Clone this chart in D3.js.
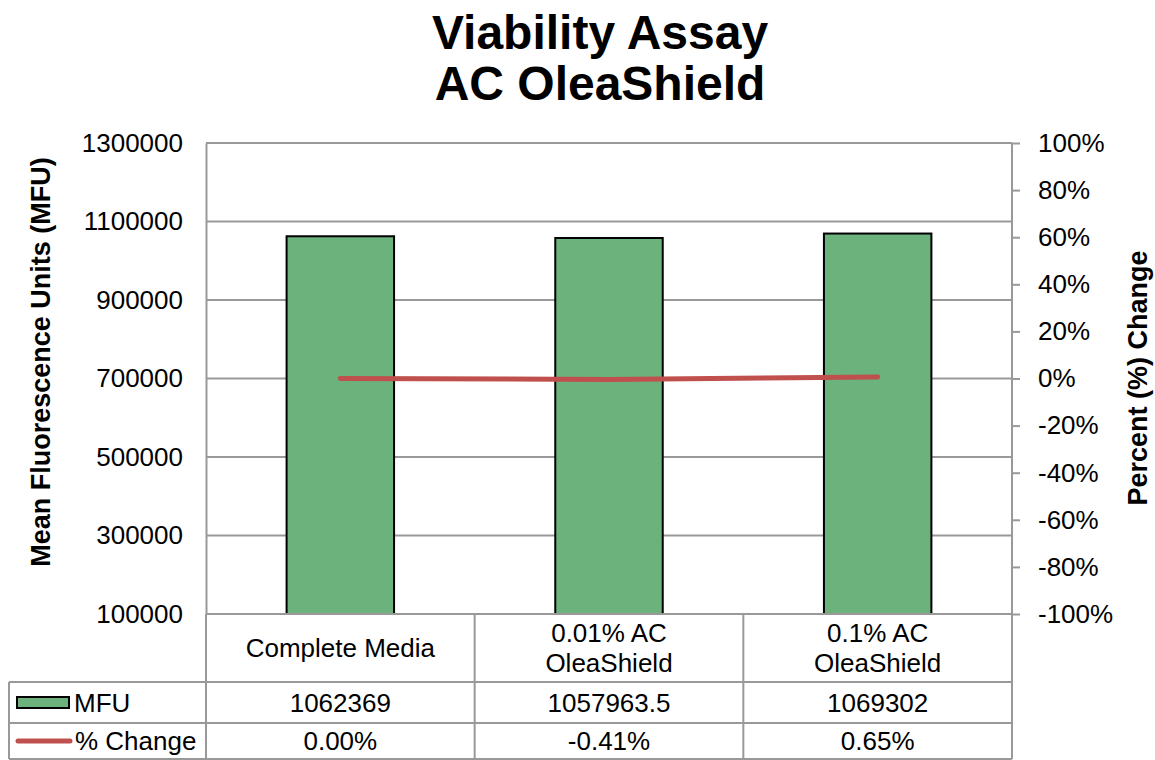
<!DOCTYPE html>
<html>
<head>
<meta charset="utf-8">
<script src="https://cdn.jsdelivr.net/npm/d3@7"></script>
<style>
  body { margin: 0; background: #fff; }
  text { font-family: "Liberation Sans", Arial, sans-serif; fill: #000; }
</style>
</head>
<body>
<div id="plot"></div>
<script>
// chart data
var categories = ["Complete Media", "0.01% AC OleaShield", "0.1% AC OleaShield"];
var categoryLines = [["Complete Media"], ["0.01% AC", "OleaShield"], ["0.1% AC", "OleaShield"]];
var mfu = [1062369, 1057963.5, 1069302];
var mfuLabels = ["1062369", "1057963.5", "1069302"];
var pctChange = [0.00, -0.41, 0.65];
var pctLabels = ["0.00%", "-0.41%", "0.65%"];
var leftTicks = [100000, 300000, 500000, 700000, 900000, 1100000, 1300000];
var rightTicks = [-100, -80, -60, -40, -20, 0, 20, 40, 60, 80, 100];

var svgWidth = 1155, svgHeight = 760;
var plot = { left: 206, right: 1012, top: 143, bottom: 614 };
var rowLines = [614, 682, 723, 759];
var tableLeft = 9;
var gridColor = "#999";
var green = "#6bb27d", red = "#c0504d";
var fontSize = "26px";

var svg = d3.select("#plot").append("svg")
    .attr("width", svgWidth)
    .attr("height", svgHeight);

// scales
var x = d3.scaleBand().domain(categories)
    .range([plot.left, plot.right])
    .paddingInner(0.6).paddingOuter(0.3);
var xCell = d3.scaleBand().domain(categories)
    .range([plot.left, plot.right]);
var y = d3.scaleLinear().domain([100000, 1300000]).range([plot.bottom, plot.top]);
var y2 = d3.scaleLinear().domain([-100, 100]).range([plot.bottom, plot.top]);

// title
var title = svg.append("text")
    .attr("text-anchor", "middle")
    .attr("font-size", "48px")
    .attr("font-weight", "bold");
title.append("tspan").attr("x", 600).attr("y", 49).text("Viability Assay");
title.append("tspan").attr("x", 600).attr("y", 100).text("AC OleaShield");

// gridlines
svg.append("g").selectAll("line")
    .data(leftTicks)
    .enter().append("line")
    .attr("x1", plot.left).attr("x2", plot.right)
    .attr("y1", d => y(d)).attr("y2", d => y(d))
    .attr("stroke", gridColor).attr("stroke-width", 2);

// left axis
var leftAxis = d3.axisLeft(y).tickValues(leftTicks).tickSize(0).tickPadding(23)
    .tickFormat(d => String(d));
var gl = svg.append("g").attr("transform", `translate(${plot.left},0)`).call(leftAxis);
gl.select(".domain").attr("stroke", gridColor).attr("stroke-width", 2);
gl.selectAll("text").attr("font-size", fontSize).attr("font-family", "Liberation Sans, Arial, sans-serif").attr("fill", "#000");

// right axis
var rightAxis = d3.axisRight(y2).tickValues(rightTicks).tickSize(8).tickPadding(18)
    .tickFormat(d => d + "%");
var gr = svg.append("g").attr("transform", `translate(${plot.right},0)`).call(rightAxis);
gr.select(".domain").attr("d", `M0,${plot.top}V${plot.bottom}`).attr("stroke", gridColor).attr("stroke-width", 2);
gr.selectAll(".tick line").attr("stroke", gridColor).attr("stroke-width", 2);
gr.selectAll("text").attr("font-size", fontSize).attr("font-family", "Liberation Sans, Arial, sans-serif").attr("fill", "#000");

// axis titles
svg.append("text")
    .attr("transform", `translate(50, 362) rotate(-90)`)
    .attr("text-anchor", "middle")
    .attr("font-size", "27px")
    .attr("font-weight", "bold")
    .text("Mean Fluorescence Units (MFU)");

svg.append("text")
    .attr("transform", `translate(1147, 378) rotate(-90)`)
    .attr("text-anchor", "middle")
    .attr("font-size", "27px")
    .attr("font-weight", "bold")
    .text("Percent (%) Change");

// bars
svg.append("g").selectAll("rect")
    .data(mfu)
    .enter().append("rect")
    .attr("x", (d, i) => x(categories[i]))
    .attr("width", x.bandwidth())
    .attr("y", d => y(d))
    .attr("height", d => plot.bottom - y(d))
    .attr("fill", green)
    .attr("stroke", "#000")
    .attr("stroke-width", 2);

// % change line
var line = d3.line()
    .x((d, i) => x(categories[i]) + x.bandwidth() / 2)
    .y(d => y2(d));
svg.append("path")
    .datum(pctChange)
    .attr("d", line)
    .attr("fill", "none")
    .attr("stroke", red)
    .attr("stroke-width", 5)
    .attr("stroke-linecap", "round");

// data table
var table = svg.append("g");
// horizontal lines
table.selectAll("line.h")
    .data(rowLines)
    .enter().append("line")
    .attr("x1", (d, i) => i === 0 ? plot.left : tableLeft)
    .attr("x2", plot.right)
    .attr("y1", d => d).attr("y2", d => d)
    .attr("stroke", gridColor).attr("stroke-width", 2);
// vertical lines
var vx = categories.map(c => xCell(c)).concat([plot.right]);
table.selectAll("line.v")
    .data(vx)
    .enter().append("line")
    .attr("x1", d => d).attr("x2", d => d)
    .attr("y1", rowLines[0]).attr("y2", rowLines[3])
    .attr("stroke", gridColor).attr("stroke-width", 2);
table.append("line")
    .attr("x1", tableLeft).attr("x2", tableLeft)
    .attr("y1", rowLines[1]).attr("y2", rowLines[3])
    .attr("stroke", gridColor).attr("stroke-width", 2);

// category labels
var catText = table.selectAll("text.cat")
    .data(categoryLines)
    .enter().append("text")
    .attr("text-anchor", "middle")
    .attr("font-size", fontSize);
catText.each(function (lines, i) {
    var cx = xCell(categories[i]) + xCell.bandwidth() / 2;
    var mid = (rowLines[0] + rowLines[1]) / 2;
    var start = mid - (lines.length - 1) * 15;
    d3.select(this).selectAll("tspan")
        .data(lines)
        .enter().append("tspan")
        .attr("x", cx)
        .attr("y", (d, j) => start + j * 30)
        .attr("dy", "0.35em")
        .text(d => d);
});

// value rows
function valueRow(labels, r) {
    table.selectAll(null)
        .data(labels)
        .enter().append("text")
        .attr("x", (d, i) => xCell(categories[i]) + xCell.bandwidth() / 2)
        .attr("y", (rowLines[r] + rowLines[r + 1]) / 2)
        .attr("dy", "0.35em")
        .attr("text-anchor", "middle")
        .attr("font-size", fontSize)
        .text(d => d);
}
valueRow(mfuLabels, 1);
valueRow(pctLabels, 2);

// legend keys in table
var mfuMid = (rowLines[1] + rowLines[2]) / 2;
var pctMid = (rowLines[2] + rowLines[3]) / 2;
table.append("rect")
    .attr("x", 17).attr("y", mfuMid - 5.5)
    .attr("width", 52).attr("height", 11)
    .attr("fill", green).attr("stroke", "#000").attr("stroke-width", 2);
table.append("text")
    .attr("x", 74).attr("y", mfuMid).attr("dy", "0.35em")
    .attr("font-size", fontSize).text("MFU");
table.append("line")
    .attr("x1", 18).attr("x2", 70)
    .attr("y1", pctMid).attr("y2", pctMid)
    .attr("stroke", red).attr("stroke-width", 5).attr("stroke-linecap", "round");
table.append("text")
    .attr("x", 75).attr("y", pctMid).attr("dy", "0.35em")
    .attr("font-size", fontSize).text("% Change");
</script>
</body>
</html>
